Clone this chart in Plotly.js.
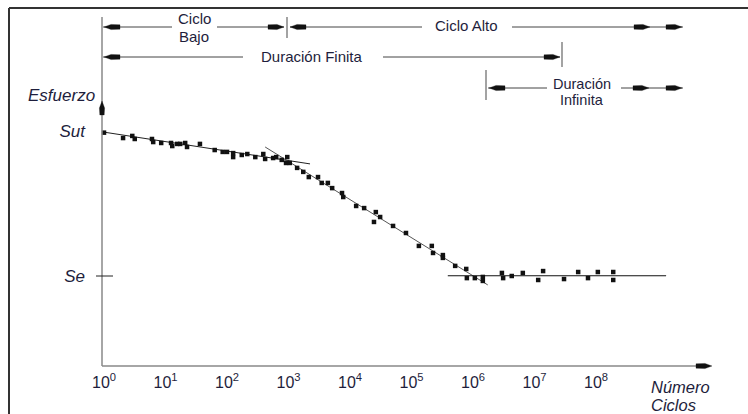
<!DOCTYPE html>
<html>
<head>
<meta charset="utf-8">
<script src="https://cdn.plot.ly/plotly-3.0.1.min.js"></script>
<style>html,body{margin:0;padding:0;background:#fff;}#chart{width:748px;height:414px;}</style>
</head>
<body>
<div id="chart"></div>
<script>
// ---- Data (x = log10 of number of cycles, y = stress in % of Sut) ----
const logCycles = [0.00,0.31,0.46,0.50,0.78,0.80,0.93,1.09,1.11,1.19,1.24,1.32,1.35,1.56,1.80,1.93,2.00,2.10,2.10,2.24,2.33,2.46,2.59,2.62,2.75,2.80,2.89,2.98,2.96,3.02,3.14,3.24,3.33,3.48,3.54,3.64,3.71,3.87,3.89,4.10,4.23,4.42,4.49,4.39,4.70,4.91,5.12,5.33,5.35,5.51,5.51,5.71,5.89,5.90,6.03,6.16,6.16,6.47,6.49,6.63,6.81,7.14,7.06,7.48,7.71,7.87,8.03,8.28,8.28];
const stress = [99.3,97.0,97.9,96.6,96.6,95.3,94.9,94.9,93.6,94.5,94.5,94.9,93.2,94.5,91.9,91.1,91.1,88.9,90.6,89.8,90.2,88.9,90.2,88.1,88.5,88.9,87.7,88.9,86.4,86.4,84.3,82.6,80.4,80.4,77.9,77.9,75.7,73.6,71.9,68.1,67.2,65.5,63.4,61.3,59.6,56.6,51.1,51.1,48.1,47.2,46.0,42.6,41.3,37.4,37.4,37.9,36.2,39.6,37.4,38.3,39.6,40.4,36.6,37.0,40.0,37.4,40.0,40.0,36.6];

const lowCycleLineX = [-0.02, 3.35];
const lowCycleLineY = [99.6, 86.0];
const highCycleLineX = [2.62, 6.24];
const highCycleLineY = [93.2, 34.5];
const enduranceLineX = [5.59, 9.14];
const enduranceLineY = [38.4, 38.4];

const Sut = 100;
const Se = 38.4;
const yTickVals = [Se, Sut];
const yTickText = ['<i>Se</i>', '<i>Sut</i>'];
const xTickVals = [0,1,2,3,4,5,6,7,8];
const xTickText = xTickVals.map(v => '10<sup>' + v + '</sup>');

// ---- Layout helpers (pixel -> paper) ----
const L = 102, R = 710, T = 17, B = 366;
const X = px => (px - L) / (R - L);
const Y = py => (B - py) / (B - T);
const FONT = 'Liberation Sans, Arial, sans-serif';
const TXT = '#1e1e3c';
const LINEC = '#444';

const shapes = [];
const annotations = [];
function hline(x0, x1, y, color, w) {
  shapes.push({type:'line', xref:'paper', yref:'paper', x0:X(x0), x1:X(x1), y0:Y(y), y1:Y(y), line:{color:color||LINEC, width:w||1}});
}
function vline(x, y0, y1, color, w) {
  shapes.push({type:'line', xref:'paper', yref:'paper', x0:X(x), x1:X(x), y0:Y(y0), y1:Y(y1), line:{color:color||'#777', width:w||1.2}});
}
function arrowH(tx, ty, dir) { // dir +1 right, -1 left
  const p = [[tx,ty],[tx-dir*7,ty-2.6],[tx-dir*16,ty-2.2],[tx-dir*16,ty+2.2],[tx-dir*7,ty+2.6]];
  const d = 'M ' + p.map(q => X(q[0]) + ' ' + Y(q[1])).join(' L ') + ' Z';
  shapes.push({type:'path', xref:'paper', yref:'paper', path:d, fillcolor:'#111', line:{color:'#111', width:0.3}});
}
function arrowV(tx, ty) { // pointing up
  const p = [[tx,ty],[tx-2.6,ty+7],[tx-2.2,ty+14],[tx+2.2,ty+14],[tx+2.6,ty+7]];
  const d = 'M ' + p.map(q => X(q[0]) + ' ' + Y(q[1])).join(' L ') + ' Z';
  shapes.push({type:'path', xref:'paper', yref:'paper', path:d, fillcolor:'#111', line:{color:'#111', width:0.3}});
}
function text(t, px, py, opts) {
  opts = opts || {};
  annotations.push(Object.assign({text:t, xref:'paper', yref:'paper', x:X(px), y:Y(py), showarrow:false, borderpad:0,
    xanchor:'center', yanchor:'middle', font:{family:FONT, size:opts.size||15, color:TXT, style:opts.style||'normal'}}, opts.extra||{}));
}

// frame
shapes.push({type:'line', xref:'paper', yref:'paper', x0:X(9), x1:X(748), y0:Y(8), y1:Y(8), line:{color:'#333', width:2}});
shapes.push({type:'line', xref:'paper', yref:'paper', x0:X(9), x1:X(9), y0:Y(8), y1:Y(414), line:{color:'#333', width:2}});

// axes lines
vline(102, 17, 366, '#888', 1.5);
hline(102, 700, 366, '#888', 1.5);
arrowH(712, 366, 1);
arrowV(102, 101);
// Se tick
hline(96, 113, 276, '#222', 1);

// Row 1: Ciclo Bajo / Ciclo Alto
hline(103, 172, 27); arrowH(104, 27, -1);
text('Ciclo', 194, 19);
text('Bajo', 194, 36);
hline(217, 284, 27); arrowH(284, 27, 1);
vline(287, 17, 38, '#666', 1.2);
hline(290, 422, 27); arrowH(290, 27, -1);
text('Ciclo Alto', 466, 26);
hline(512, 683, 27); arrowH(650, 27, 1); arrowH(682, 27, 1);

// Row 2: Duración Finita
hline(103, 243, 57); arrowH(104, 57, -1);
text('Duración Finita', 312, 56);
hline(383, 560, 57); arrowH(560, 57, 1);
vline(562, 42, 67, '#666', 1.2);

// Row 3: Duración Infinita
vline(486, 70, 100, '#666', 1.2);
hline(488, 547, 88); arrowH(489, 88, -1);
text('Duración', 582, 84.5, {size:14.5});
text('Infinita', 582, 100.5, {size:14.5});
hline(621, 683, 88); arrowH(649, 88, 1); arrowH(682, 88, 1);

// axis titles
text('Esfuerzo', 96, 95, {size:17, style:'italic', extra:{xanchor:'right'}});
text('Número', 650, 386.5, {size:16.5, style:'italic', extra:{xanchor:'left'}});
text('Ciclos', 650, 405, {size:16.5, style:'italic', extra:{xanchor:'left'}});

const traces = [
  {x:lowCycleLineX, y:lowCycleLineY, mode:'lines', line:{color:'#222', width:1}, hoverinfo:'skip'},
  {x:highCycleLineX, y:highCycleLineY, mode:'lines', line:{color:'#555', width:1}, hoverinfo:'skip'},
  {x:enduranceLineX, y:enduranceLineY, mode:'lines', line:{color:'#111', width:1.2}, hoverinfo:'skip'},
  {x:logCycles, y:stress, mode:'markers', marker:{symbol:'square', size:4.5, color:'#111'}, cliponaxis:false}
];

const layout = {
  width:748, height:414,
  margin:{l:L, r:748-R, t:T, b:414-B, pad:0},
  paper_bgcolor:'#fff', plot_bgcolor:'#fff',
  showlegend:false,
  xaxis:{range:[(L-104)/61.5, (R-104)/61.5], showgrid:false, zeroline:false, showline:false,
    tickvals:xTickVals, ticktext:xTickText, ticks:'', tickfont:{family:FONT, size:16, color:TXT}, ticklabelstandoff:5},
  yaxis:{range:[0, (B-T)*Sut/235], showgrid:false, zeroline:false, showline:false,
    tickvals:yTickVals, ticktext:yTickText, ticks:'', tickfont:{family:FONT, size:17, color:TXT}, ticklabelstandoff:16},
  shapes:shapes,
  annotations:annotations
};

Plotly.newPlot('chart', traces, layout, {staticPlot:true, displayModeBar:false});
</script>
</body>
</html>
